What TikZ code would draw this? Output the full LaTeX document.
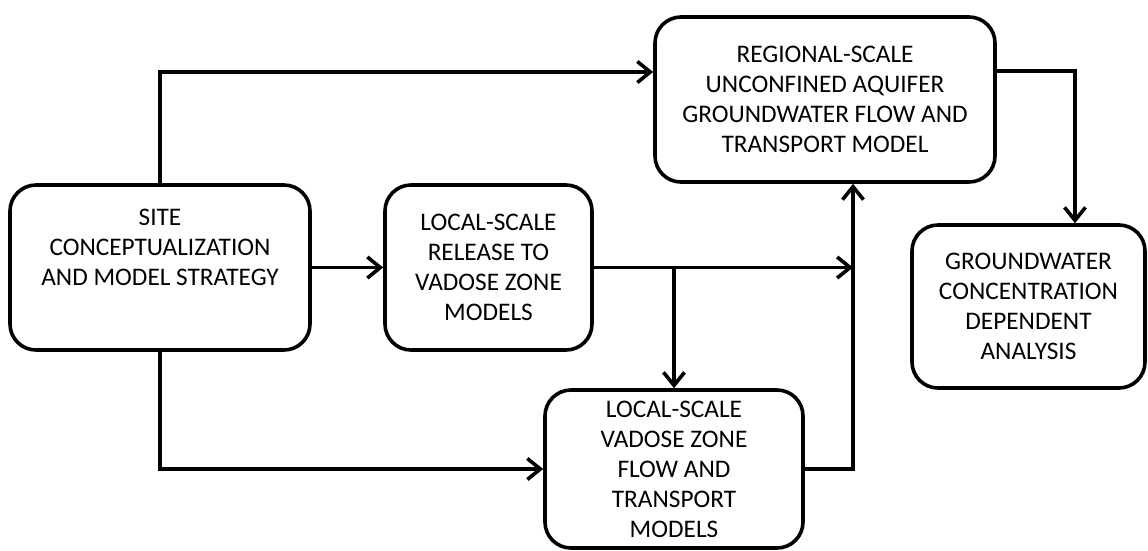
\documentclass[tikz,border=0pt]{standalone}
\usepackage{fontspec}
\setmainfont{Carlito}
\usetikzlibrary{arrows.meta}
\begin{document}
\begin{tikzpicture}[x=1pt,y=-1pt,
  box/.style={draw=black, line width=3.6pt, rounded corners=26pt, fill=white,
    align=center, inner sep=0pt, font=\fontsize{25.3}{30}\selectfont},
  txt/.style={align=center, inner sep=0pt, font=\fontsize{25.3}{30}\selectfont},
  arr/.style={line width=3.6pt, -{Straight Barb[length=13pt,width=21pt,line width=3.6pt]}}
]
\useasboundingbox (0,0) rectangle (1148,550);
% boxes
\node[box, minimum width=300pt, minimum height=165pt] (site) at (160,267.5) {};
\node[txt] (sitetext) at (160,247) {SITE\\CONCEPTUALIZATION\\AND MODEL STRATEGY};
\node[box, minimum width=207pt, minimum height=165pt] (release) at (488.5,267.5)
  {LOCAL-SCALE\\RELEASE TO\\VADOSE ZONE\\MODELS};
\node[box, minimum width=340pt, minimum height=165pt] (regional) at (825,99.5)
  {REGIONAL-SCALE\\UNCONFINED AQUIFER\\GROUNDWATER FLOW AND\\TRANSPORT MODEL};
\node[box, minimum width=233pt, minimum height=163pt] (gw) at (1028.5,306.5)
  {GROUNDWATER\\CONCENTRATION\\DEPENDENT\\ANALYSIS};
\node[box, minimum width=258pt, minimum height=158pt] (vadose) at (674,469)
  {LOCAL-SCALE\\VADOSE ZONE\\FLOW AND\\TRANSPORT\\MODELS};
% helper coordinates
\coordinate (riser) at ([xshift=28pt]regional.south);
% connectors
\draw[arr] (site.north) |- ([yshift=27.5pt]regional.west);
\draw[arr] (site.east) -- (release.west);
\draw[arr] (release.east) -- (release.east -| riser);
\draw[arr] (release.east -| vadose.north) -- (vadose.north);
\draw[arr] (vadose.east) -| (riser);
\draw[arr] (site.south) |- (vadose.west);
\draw[arr] ([yshift=28.5pt]regional.east) -| ([xshift=46.5pt]gw.north);
\end{tikzpicture}
\end{document}
